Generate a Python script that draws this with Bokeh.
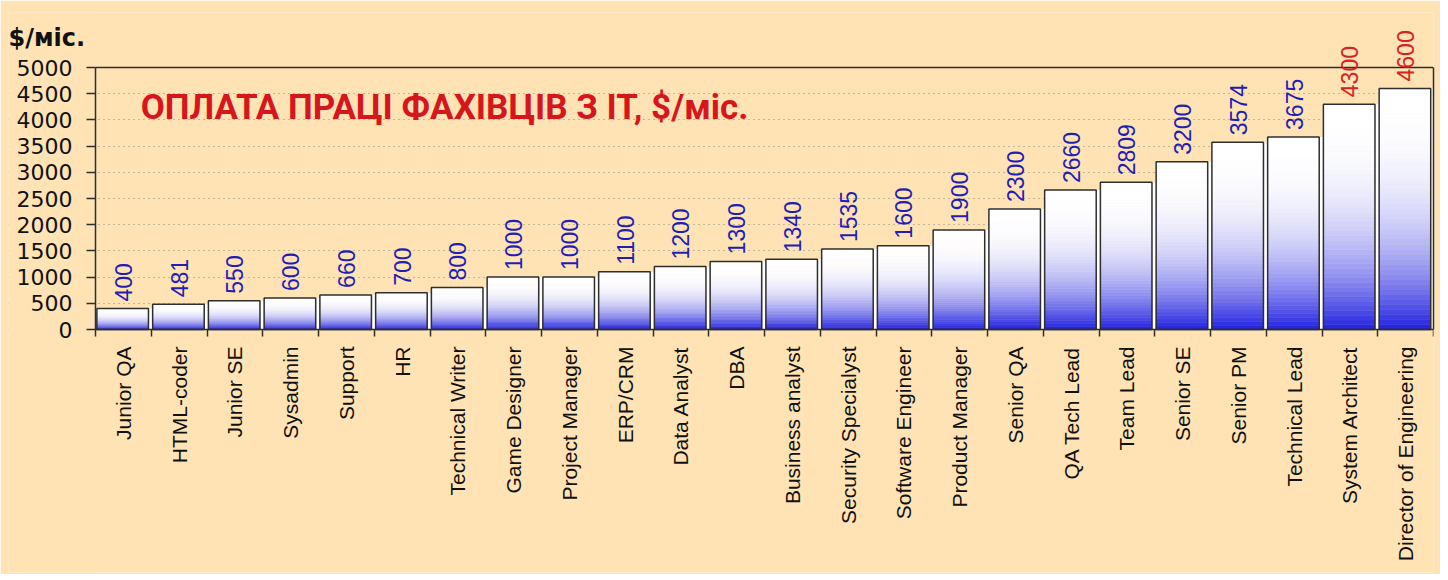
import math
import numpy as np
from bokeh.plotting import figure
from bokeh.models import Label, FixedTicker, Range1d, LinearAxis, BoxAnnotation
from bokeh.embed import file_html
from bokeh.resources import INLINE

categories = ["Junior QA", "HTML-coder", "Junior SE", "Sysadmin", "Support", "HR",
              "Technical Writer", "Game Designer", "Project Manager", "ERP/CRM",
              "Data Analyst", "DBA", "Business analyst", "Security Specialyst",
              "Software Engineer", "Product Manager", "Senior QA", "QA Tech Lead",
              "Team Lead", "Senior SE", "Senior PM", "Technical Lead",
              "System Architect", "Director of Engineering"]
salaries = [400, 481, 550, 600, 660, 700, 800, 1000, 1000, 1100, 1200, 1300, 1340,
            1535, 1600, 1900, 2300, 2660, 2809, 3200, 3574, 3675, 4300, 4600]
top_paid = ["System Architect", "Director of Engineering"]
y_ticks = [0, 500, 1000, 1500, 2000, 2500, 3000, 3500, 4000, 4500, 5000]
y_max = 5000
chart_title = "ОПЛАТА ПРАЦІ ФАХІВЦІВ З ІТ, $/міс."
unit_label = "$/міс."

BG = "#FFE3B4"
DARK = "#2E2E2E"
BLUE = np.array([0x20, 0x20, 0xE0], dtype=float)
WHITE = np.array([255, 255, 255], dtype=float)

# layout in pixels
BAR_W_PX = 1338     # width of the bar area
BAR_H_PX = 262      # height for 0..5000
TOP_PAD = 55        # headroom above the 5000 line (value labels)
LEFT_PAD = 87       # room left of the bar area (y axis labels + unit label)
BOTTOM_PAD = 243    # room below the zero line (category labels)
ncat = len(categories)
x_start = -0.5 - ncat * LEFT_PAD / BAR_W_PX
x_end = ncat - 0.5
y_start = -y_max * BOTTOM_PAD / BAR_H_PX
y_end = y_max * (BAR_H_PX + TOP_PAD) / BAR_H_PX

p = figure(width=1440, height=574, output_backend="svg", toolbar_location=None,
           x_range=Range1d(x_start, x_end), y_range=Range1d(y_start, y_end),
           min_border_left=8, min_border_right=7, min_border_top=67 - TOP_PAD,
           min_border_bottom=574 - (67 + BAR_H_PX + BOTTOM_PAD))
p.background_fill_color = BG
p.border_fill_color = BG
p.outline_line_color = None
p.title.text = ""

xax = p.below[0]
yax = p.left[0]

idx = np.arange(ncat, dtype=float)
vals = np.array(salaries, dtype=float)

# grid (dotted), masked left of the bar area
p.xgrid.grid_line_color = None
p.ygrid.ticker = FixedTicker(ticks=y_ticks[:-1])
p.ygrid.grid_line_color = "#8A8A80"
p.ygrid.grid_line_dash = "1 4"
p.ygrid.grid_line_width = 1
p.add_layout(BoxAnnotation(right=-0.5, fill_color=BG, fill_alpha=1.0,
                           line_alpha=0, level="underlay"))

# white side strips
p.quad(left=idx - 0.5 + 0.945, right=idx - 0.5 + 1.03, bottom=0, top=vals,
       fill_color="white", line_color=None)

# gradient slices
n = 48
L, R, B, T, C = [], [], [], [], []
for i, v in zip(idx, vals):
    for k in range(n):
        t = (k + 0.5) / n
        s = 1 - (1 - t) ** 2.6
        rgb = BLUE * (1 - s) + WHITE * s
        L.append(i - 0.5 + 0.025)
        R.append(i - 0.5 + 0.95)
        B.append(v * k / n)
        T.append(v * (k + 1) / n)
        C.append("#%02x%02x%02x" % tuple(int(round(c)) for c in rgb))
p.quad(left=L, right=R, bottom=B, top=T, fill_color=C, line_color=C, line_width=0.6)

p.vbar(x=idx - 0.0125, width=0.925, top=vals, bottom=0, fill_color=None,
       line_color=DARK, line_width=1.5)

# value labels
for c, i, v in zip(categories, idx, salaries):
    p.add_layout(Label(x=i, y=v, text=str(v), angle=math.pi / 2,
                       text_align="left", text_baseline="middle", y_offset=7,
                       text_color="#D42323" if c in top_paid else "#1F1FB4",
                       text_font="Liberation Sans", text_font_size="23px"))

# main title inside plot
p.add_layout(Label(x=0.31, y=4240, text=chart_title, text_color="#D6161C",
                   text_font="Roboto", text_font_style="bold",
                   text_font_size="35px", text_baseline="middle", text_align="left"))

# unit label (top-left corner)
p.add_layout(Label(x=x_start, y=5570, text=unit_label,
                   text_font="DejaVu Sans", text_font_style="bold",
                   text_font_size="24px", text_color="#111111",
                   text_baseline="alphabetic", text_align="left"))

# y axis drawn at the left edge of the bar area
yax.fixed_location = -0.5
yax.ticker = FixedTicker(ticks=y_ticks)
yax.bounds = (0, y_max)
yax.axis_line_color = DARK
yax.axis_line_width = 1.5
yax.major_tick_line_color = DARK
yax.major_tick_line_width = 1.5
yax.major_tick_out = 9
yax.major_tick_in = 0
yax.minor_tick_line_color = None
yax.major_label_text_font = "DejaVu Sans"
yax.major_label_text_font_size = "22px"
yax.major_label_text_color = "#111111"
yax.major_label_standoff = 14

# frame edges: right side and top (5000) line
p.add_layout(LinearAxis(ticker=FixedTicker(ticks=[]), bounds=(0, y_max),
                        axis_line_color=DARK, axis_line_width=1.5,
                        major_tick_line_color=None, minor_tick_line_color=None), "right")
p.add_layout(LinearAxis(ticker=FixedTicker(ticks=[]), bounds=(-0.5, x_end),
                        fixed_location=y_max,
                        axis_line_color=DARK, axis_line_width=1.5,
                        major_tick_line_color=None, minor_tick_line_color=None), "above")

# x axis drawn on the zero line
xax.fixed_location = 0
xax.bounds = (-0.5, x_end)
xax.ticker = FixedTicker(ticks=list(range(ncat)),
                         minor_ticks=[i - 0.5 for i in range(ncat + 1)])
xax.major_label_overrides = {i: c for i, c in enumerate(categories)}
xax.major_label_orientation = math.pi / 2
xax.axis_line_color = DARK
xax.axis_line_width = 1.5
xax.major_tick_line_color = None
xax.major_tick_out = 0
xax.major_tick_in = 0
xax.minor_tick_line_color = DARK
xax.minor_tick_line_width = 1.5
xax.minor_tick_out = 7
xax.minor_tick_in = 0
xax.major_label_text_font = "Liberation Sans"
xax.major_label_text_font_size = "21px"
xax.major_label_text_color = "#111111"
xax.major_label_standoff = 10

open("out.html", "w").write(file_html(p, INLINE))
